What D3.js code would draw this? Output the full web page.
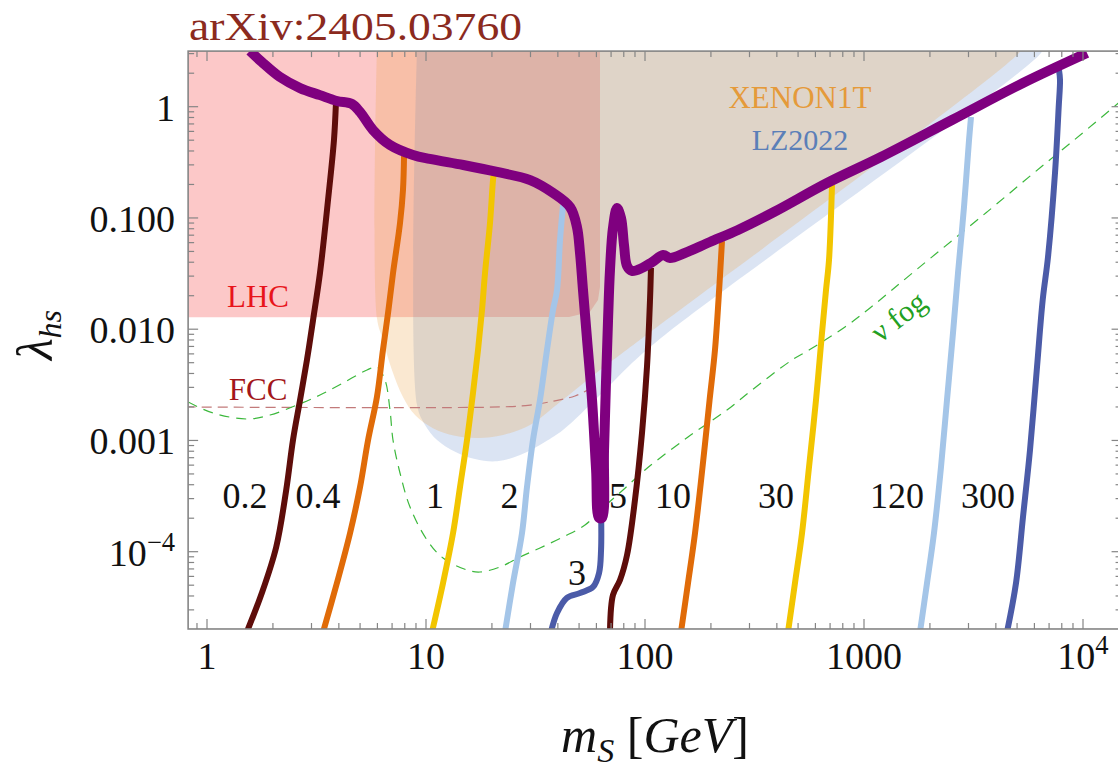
<!DOCTYPE html>
<html><head><meta charset="utf-8">
<script src="https://cdn.jsdelivr.net/npm/d3@7"></script>
<style>
body{margin:0;background:#fff;}
svg{display:block;}
text{font-family:"Liberation Serif","Times New Roman",serif;}
</style></head><body>
<svg id="chart" width="1118" height="771"></svg>
<script>
// ---------- data ----------
const xTickValues=[1,10,100,1000,10000];
const xTickLabels=["1","10","100","1000","10^4"];
const yTickValues=[1,0.1,0.01,0.001,1e-4];
const yTickLabels=["1","0.100","0.010","0.001","10^−4"];

// excluded regions (m_S [GeV], lambda_hs)
const lhcM=[0.8,62.3,62.3,61.0,56.0,45.0,0.8];
const lhcL=[3.4,3.4,0.024,0.0183,0.0143,0.0129,0.0128];
const xenonM=[5.97,5.97,6.36,6.99,7.85,8.91,10.76,13.57,17.28,22.47,29.85,40.9,62.3,104,5100,5270];
const xenonL=[3.4,0.0126,0.0080,0.0043,0.00246,0.00169,0.00129,0.00110,0.00105,0.00112,0.00138,0.00222,0.0043,0.0092,3.04,3.4];
const lzM=[9.10,9.10,9.90,11.23,13.57,16.74,21.1,26.9,34.9,42.2,62.3,85.4,126,6430,6570];
const lzL=[3.4,0.00208,0.00138,0.00101,0.00079,0.00068,0.00065,0.00074,0.00097,0.00124,0.00256,0.00477,0.0092,3.04,3.4];
const fccM=[0.8,21.8,29.9,38.8,47.9,57.3];
const fccL=[0.0020,0.0020,0.00208,0.00227,0.00251,0.00297];
const fogM=[0.82,1.065,1.523,1.94,2.576,3.281,4.178,5.378,5.973,6.498,6.847,7.068,7.608,8.454,10.11,11.96,15.39,17.64,21.77,26.87,33.15,42.23,53.21,66.37,79.36,100,157.2,236.8,308,469.1,561,819,1065,1728,3644,6431,9000,15070];
const fogL=[0.002216,0.001765,0.001559,0.001693,0.002083,0.00256,0.003284,0.004298,0.004573,0.003494,0.001878,0.001009,5.099e-4,2.522e-4,1.274e-4,8.777e-5,6.846e-5,6.569e-5,7.287e-5,8.961e-5,1.080e-4,1.355e-4,1.738e-4,2.629e-4,3.585e-4,5.43e-4,0.001074,0.001878,0.002842,0.005286,0.0065,0.01047,0.01551,0.03405,0.1131,0.2871,0.4916,1.149];

// boundary curve (purple)
const boundM=[1.57,1.78,2.15,2.66,3.28,3.92,4.59,5.0,5.73,6.85,8.72,10.4,14.8,21.1,29.9,38.0,45.5,48.9,50.5,52.1,54.4,57.3,59.8,61.7,63.6,65.0,66.4,67.8,69.2,71.4,74.5,77.7,80.2,82.8,87.2,96.9,108,121,130,152,198,266,388,678,1195,2522,5321,10430];
const boundL=[3.17,2.52,1.85,1.47,1.27,1.125,1.057,0.896,0.617,0.4525,0.368,0.339,0.299,0.259,0.219,0.168,0.125,0.0829,0.0484,0.0225,0.0080,0.00231,0.000543,0.000201,0.000201,0.000821,0.00349,0.0121,0.0341,0.0812,0.123,0.0999,0.0571,0.037,0.0334,0.0355,0.0402,0.0465,0.0437,0.0484,0.0608,0.0779,0.113,0.206,0.353,0.759,1.633,3.04];

// contour curves, labelled by value
const curveNames=["0.2","0.4","1","2","3","5","10","30","120","300"];
const c02M=[1.52,1.78,2.07,2.30,2.47,2.66,2.86,3.05,3.28,3.57,3.80,3.88];
const c02L=[1.9e-5,4.25e-5,1.10e-4,3.59e-4,1.01e-3,2.31e-3,5.29e-3,0.0121,0.0320,0.145,0.502,1.08];
const c04M=[3.39,3.92,4.50,5.00,5.44,5.97,6.36,6.71,7.07,7.61,7.85,7.94];
const c04L=[1.9e-5,5.23e-5,1.47e-4,3.82e-4,1.01e-3,2.46e-3,6.50e-3,0.0140,0.0320,0.0901,0.178,0.368];
const c1M=[10.65,11.96,13.29,14.30,15.39,16.39,17.28,18.02,18.60,19.60,20.23,20.44];
const c1L=[1.9e-5,5.23e-5,1.47e-4,3.82e-4,1.01e-3,2.67e-3,6.50e-3,0.0149,0.0320,0.0901,0.219,0.259];
const c2M=[22.95,24.96,27.44,28.92,30.80,33.15,35.69,38.01,39.65,40.92,42.23];
const c2L=[1.9e-5,5.23e-5,1.47e-4,3.82e-4,1.01e-3,2.31e-3,6.50e-3,0.0149,0.0225,0.0633,0.131];
const c3M=[37.2,39.65,44.0,50.5,57.9,61.7,63.0,63.1];
const c3L=[1.9e-5,2.81e-5,3.84e-5,4.25e-5,4.82e-5,6.44e-5,1.04e-4,2.01e-4];
const c5M=[69.2,71.4,76.9,82.8,90.0,96.9,102.1,105.4,106.5];
const c5L=[1.9e-5,4.08e-5,5.57e-5,9.34e-5,2.92e-4,1.17e-3,4.57e-3,0.0183,0.0355];
const c10M=[146,157.2,169.2,183.1,197.2,208.7,216.6,224.7];
const c10L=[1.9e-5,5.23e-5,1.47e-4,5.77e-4,2.31e-3,6.50e-3,0.0183,0.0621];
const c30M=[449.8,484,521.2,561,603.7,643,670.7,692.2,714.4];
const c30L=[1.9e-5,5.23e-5,1.47e-4,5.77e-4,2.31e-3,9.24e-3,0.0225,0.0419,0.198];
const c120M=[1802,1940,2087,2247,2393,2549,2687,2861,3017,3081];
const c120L=[1.9e-5,5.23e-5,1.47e-4,5.77e-4,2.31e-3,9.24e-3,0.0320,0.125,0.502,0.808];
const c300M=[4498,4945,5321,5728,6166,6546,6922,7451,7745,7852,7770];
const c300L=[1.9e-5,5.23e-5,2.05e-4,8.21e-4,4.57e-3,0.0183,0.0446,0.254,0.994,1.74,2.14];
const curveMs=[c02M,c04M,c1M,c2M,c3M,c5M,c10M,c30M,c120M,c300M];
const curveLs=[c02L,c04L,c1L,c2L,c3L,c5L,c10L,c30L,c120L,c300L];

// label anchors in data coordinates
const curveLabelM=[1.49,3.21,10.99,24.06,48.93,75.28,134.3,396.6,1415,3682];
const curveLabelL=[2.47e-4,2.47e-4,2.47e-4,2.47e-4,5.02e-5,2.47e-4,2.47e-4,2.47e-4,2.47e-4,2.47e-4];

// ---------- styles ----------
const curveColors=["#5e0d0a","#e06b08","#f2c500","#a4c5e8","#4b5ba8"];

// ---------- scales ----------
const svg=d3.select("#chart");
const x=d3.scaleLog().domain([1,1e4]).range([207,1083]);
const y=d3.scaleLog().domain([1,1e-4]).range([106.7,551.7]);
const L=x(0.82),R=x(15000),T=y(3.16),B=y(2.02e-5);

svg.append("defs").append("clipPath").attr("id","clip")
  .append("rect").attr("x",L).attr("y",T).attr("width",R-L).attr("height",B-T);
const g=svg.append("g").attr("clip-path","url(#clip)");
const zip=(ms,ls)=>ms.map((m,i)=>[m,ls[i]]);
const poly=d3.line().x(d=>x(d[0])).y(d=>y(d[1]));
const smooth=d3.line().x(d=>x(d[0])).y(d=>y(d[1])).curve(d3.curveCatmullRom.alpha(0.5));

// regions
g.append("path").attr("d",poly(zip(lhcM,lhcL))+"Z").attr("fill","#fcc8c8");
g.append("path").attr("d",smooth(zip(lzM,lzL))+"Z").attr("fill","rgba(100,140,205,0.23)");
g.append("path").attr("d",smooth(zip(xenonM,xenonL))+"Z").attr("fill","rgba(235,165,70,0.25)");

// FCC and nu fog
g.append("path").attr("d",smooth(zip(fccM,fccL))).attr("fill","none")
  .attr("stroke","#c27a7a").attr("stroke-width",1.2).attr("stroke-dasharray","10,6");
g.append("path").attr("d",smooth(zip(fogM,fogL))).attr("fill","none")
  .attr("stroke","#3cb83c").attr("stroke-width",1.2).attr("stroke-dasharray","10,7");

// contour curves
curveMs.forEach((ms,i)=>{
  g.append("path").attr("d",smooth(zip(ms,curveLs[i]))).attr("fill","none")
   .attr("stroke",curveColors[i%5]).attr("stroke-width",6).attr("stroke-linejoin","round");
});
// boundary
g.append("path").attr("d",smooth(zip(boundM,boundL))).attr("fill","none")
  .attr("stroke","#7f007f").attr("stroke-width",10).attr("stroke-linejoin","round");

// ---------- frame & ticks ----------
const frameCol="#858585";
const ax=svg.append("g");
function minorTicks(lo,hi){const t=[];for(let e=-6;e<=5;e++)for(let k=1;k<10;k++){const v=k*Math.pow(10,e);if(v>=lo&&v<=hi)t.push({v,major:k===1});}return t;}
const xt=minorTicks(0.82,15000), yt=minorTicks(2.02e-5,3.16);
xt.forEach(t=>{const px=x(t.v),len=t.major?10:6;
  ax.append("line").attr("x1",px).attr("x2",px).attr("y1",B).attr("y2",B-len).attr("stroke",frameCol).attr("stroke-width",1.2);
  ax.append("line").attr("x1",px).attr("x2",px).attr("y1",T).attr("y2",T+len).attr("stroke",frameCol).attr("stroke-width",1.2);});
yt.forEach(t=>{const py=y(t.v),len=t.major?10:6;
  ax.append("line").attr("x1",L).attr("x2",L+len).attr("y1",py).attr("y2",py).attr("stroke",frameCol).attr("stroke-width",1.2);
  ax.append("line").attr("x1",R).attr("x2",R-len).attr("y1",py).attr("y2",py).attr("stroke",frameCol).attr("stroke-width",1.2);});
ax.append("rect").attr("x",L).attr("y",T).attr("width",R-L).attr("height",B-T)
  .attr("fill","none").attr("stroke",frameCol).attr("stroke-width",1.6);

function powLabel(sel,label){
  const p=label.split("^");
  sel.append("tspan").text(p[0]);
  if(p.length>1) sel.append("tspan").attr("font-size","0.7em").attr("dy","-0.55em").text(p[1]);
}
xTickValues.forEach((v,i)=>{
  const t=svg.append("text").attr("x",x(v)).attr("y",B+40).attr("text-anchor","middle")
    .attr("font-size",38).attr("fill","#111");
  powLabel(t,xTickLabels[i]);
});
yTickValues.forEach((v,i)=>{
  const t=svg.append("text").attr("x",175).attr("y",y(v)+14).attr("text-anchor","end")
    .attr("font-size",38).attr("fill","#111");
  powLabel(t,yTickLabels[i]);
});

// axis titles
const xt2=svg.append("text").attr("x",655).attr("y",752).attr("text-anchor","middle").attr("font-size",50).attr("fill","#111");
xt2.append("tspan").attr("font-style","italic").text("m");
xt2.append("tspan").attr("font-style","italic").attr("font-size",34).attr("dy",10).text("S");
xt2.append("tspan").attr("dy",-10).text(" [");
xt2.append("tspan").attr("font-style","italic").text("GeV");
xt2.append("tspan").text("]");
const yt2=svg.append("text").attr("transform","translate(52,335) rotate(-90)").attr("text-anchor","middle").attr("font-size",50).attr("fill","#111");
yt2.append("tspan").attr("font-style","italic").text("λ");
yt2.append("tspan").attr("font-style","italic").attr("font-size",32).attr("dy",9).text("hs");

// title
svg.append("text").attr("x",189).attr("y",40).attr("font-family","DejaVu Serif").attr("font-size",39)
  .attr("textLength",333).attr("lengthAdjust","spacingAndGlyphs")
  .attr("fill","#8b2a1e").text("arXiv:2405.03760");

// annotations
curveNames.forEach((n,i)=>{
  svg.append("text").attr("x",x(curveLabelM[i])).attr("y",y(curveLabelL[i])).attr("text-anchor","middle")
    .attr("font-size",36).attr("fill","#111").text(n);
});
svg.append("text").attr("x",x(1.71)).attr("y",y(0.0158)).attr("text-anchor","middle").attr("font-size",31).attr("fill","#e8141b").text("LHC");
svg.append("text").attr("x",x(1.71)).attr("y",y(0.00231)).attr("text-anchor","middle").attr("font-size",31).attr("fill","#a3161a").text("FCC");
svg.append("text").attr("x",x(510)).attr("y",y(0.97)).attr("text-anchor","middle").attr("font-size",31).attr("fill","#e59a3a").text("XENON1T");
svg.append("text").attr("x",x(510)).attr("y",y(0.408)).attr("text-anchor","middle").attr("font-size",30).attr("fill","#5b7fb8").text("LZ2022");
svg.append("text").attr("transform",`translate(${x(1430)},${y(0.0131)}) rotate(-38)`).attr("text-anchor","middle")
  .attr("dominant-baseline","central").attr("font-size",30).attr("fill","#22a022").text("ν fog");
</script>
</body></html>
